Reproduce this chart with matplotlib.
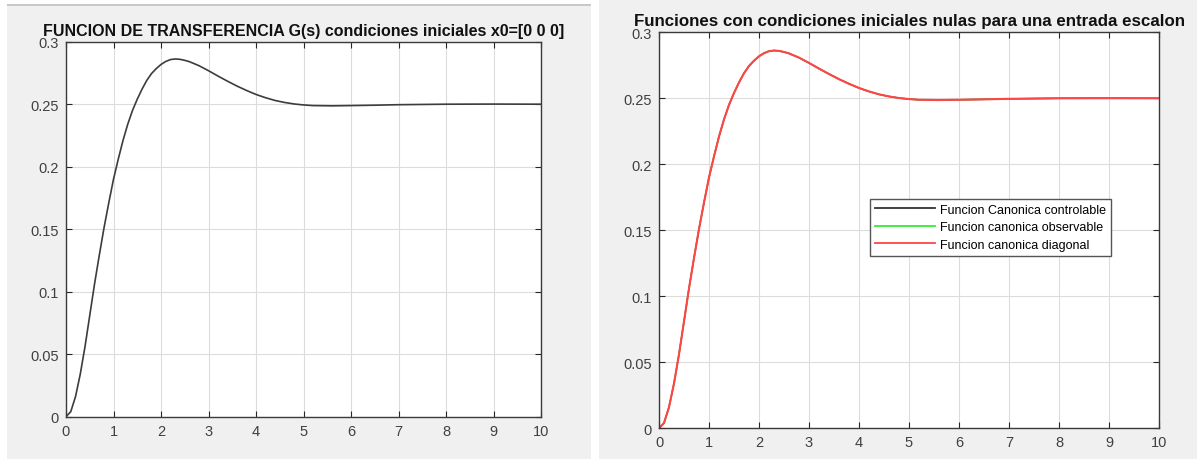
import matplotlib
matplotlib.use("Agg")
import matplotlib.pyplot as plt
from matplotlib.patches import Rectangle
from matplotlib.ticker import FuncFormatter

# step response (same curve in both panels)
t = [0, 0.1, 0.2, 0.3, 0.4, 0.5, 0.6, 0.7, 0.8, 0.9, 1.0, 1.1, 1.2, 1.3, 1.4,
     1.5, 1.6, 1.7, 1.8, 1.9, 2.0, 2.1, 2.2, 2.3, 2.4, 2.5, 2.6, 2.8, 3.0, 3.2,
     3.4, 3.6, 3.8, 4.0, 4.2, 4.4, 4.6, 4.8, 5.0, 5.2, 5.6, 6.0, 6.5, 7.0, 8.0,
     9.0, 10.0]
y = [0, 0.004, 0.016, 0.034, 0.056, 0.081, 0.106, 0.129, 0.151, 0.171, 0.190,
     0.206, 0.221, 0.234, 0.245, 0.254, 0.262, 0.269, 0.2745, 0.2785, 0.2818,
     0.2842, 0.2857, 0.2862, 0.2859, 0.2851, 0.2840, 0.2808, 0.2768, 0.2725,
     0.2684, 0.2645, 0.2610, 0.2578, 0.2552, 0.2530, 0.2514, 0.2502, 0.2494,
     0.2489, 0.2487, 0.2489, 0.2492, 0.2496, 0.2500, 0.2501, 0.2500]

x_ticks = list(range(0, 11))
y_ticks = [0, 0.05, 0.1, 0.15, 0.2, 0.25, 0.3]

title_left = "FUNCION DE TRANSFERENCIA G(s) condiciones iniciales x0=[0 0 0]"
title_right = "Funciones con condiciones iniciales nulas para una entrada escalon"
legend_labels = ["Funcion Canonica controlable", "Funcion canonica observable",
                 "Funcion canonica diagonal"]

PANEL = "#f0f0f0"
AX_COL = "#262626"

plt.rcParams["font.family"] = ["Liberation Sans", "DejaVu Sans"]

fig = plt.figure(figsize=(11.97, 4.6), dpi=100)
fig.patch.set_facecolor("white")

W, H = 1197.0, 460.0
# grey figure backgrounds of the two screenshots
fig.patches.append(Rectangle((7 / W, 0), 584 / W, 455 / H, transform=fig.transFigure,
                             facecolor=PANEL, edgecolor="none", zorder=-10))
fig.patches.append(Rectangle((7 / W, 453 / H), 584 / W, 2 / H, transform=fig.transFigure,
                             facecolor="#c8c8c8", edgecolor="none", zorder=-9))
fig.patches.append(Rectangle((599 / W, 0), 598 / W, 1, transform=fig.transFigure,
                             facecolor=PANEL, edgecolor="none", zorder=-10))

ax1 = fig.add_axes([66 / W, (460 - 417.7) / H, 475 / W, 375 / H])
ax2 = fig.add_axes([659 / W, (460 - 429.3) / H, 500 / W, 396 / H])


def style(ax):
    ax.set_xlim(0, 10)
    ax.set_ylim(0, 0.3)
    ax.set_xticks(x_ticks)
    ax.set_yticks(y_ticks)
    ax.yaxis.set_major_formatter(FuncFormatter(lambda v, p: f"{v:g}"))
    ax.grid(True, color="#dcdcdc", linewidth=0.8)
    ax.set_axisbelow(True)
    ax.tick_params(direction="in", top=True, right=True, length=4,
                   color=AX_COL, labelcolor="#404040", labelsize=10.5, pad=5)
    for s in ax.spines.values():
        s.set_color("#3a3a3a")
        s.set_linewidth(1.0)


style(ax1)
ax1.plot(t, y, color="#3c3c3c", linewidth=1.2)
ax1.set_title(title_left, fontsize=11.5, fontweight="bold", color="#111111", pad=5)

style(ax2)
ax2.plot(t, y, color="#333333", linewidth=1.0, label=legend_labels[0])
ax2.plot(t, y, color="#33ee33", linewidth=1.0, label=legend_labels[1])
ax2.plot(t, y, color="#ff4545", linewidth=1.5, label=legend_labels[2])
ax2.set_title(title_right, fontsize=12.2, fontweight="bold", color="#111111", pad=5)
leg = ax2.legend(loc="upper left", bbox_to_anchor=(0.422, 0.58), fontsize=9,
                 frameon=True, fancybox=False, framealpha=1, edgecolor="#555555",
                 handlelength=4.8, borderpad=0.4, labelspacing=0.45, handletextpad=0.4,
                 borderaxespad=0)
leg.get_frame().set_linewidth(1.0)
for line in leg.get_lines():
    line.set_linewidth(1.3)

fig.savefig("out.png", dpi=100)
